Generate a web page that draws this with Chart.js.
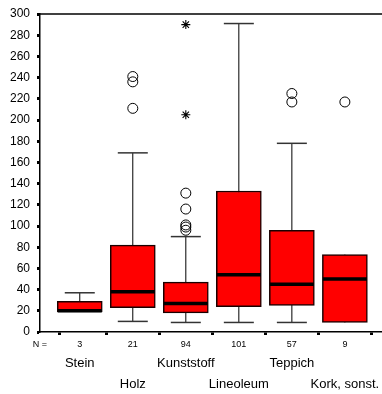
<!DOCTYPE html>
<html>
<head>
<meta charset="utf-8">
<script src="https://cdn.jsdelivr.net/npm/chart.js@4/dist/chart.umd.min.js"></script>
<style>
  html, body { margin: 0; padding: 0; background: #fff; }
  #wrap { width: 382px; height: 394px; }
</style>
</head>
<body>
<div id="wrap"><canvas id="c" width="382" height="394"></canvas></div>
<script>
// Floor material groups and their sample sizes
const categories = ['Stein', 'Holz', 'Kunststoff', 'Lineoleum', 'Teppich', 'Kork, sonst.'];
const counts = [3, 21, 94, 101, 57, 9];

// Box-plot summary per group
const whiskerLow  = [19, 10,  9,   9,   9,  9];
const q1          = [19, 23, 18,  24,  25,  9];
const median      = [20, 38, 27,  54,  45, 50];
const q3          = [29, 82, 47, 133,  96, 73];
const whiskerHigh = [37, 169, 90, 291, 178, 73];

// Outliers (circles) and extreme values (asterisks), per group
const outliers = [[], [211, 236, 241], [96, 99, 101, 116, 131], [], [217, 225], [217]];
const extremes = [[], [], [205, 290], [], [], []];

// Y axis ticks
const yMin = 0, yMax = 300, yStep = 20;

Chart.defaults.font.family = "'Liberation Sans', Arial, Helvetica, sans-serif";
Chart.defaults.color = '#000';

const pos = categories.map((_, i) => i + 1);

const whiskerData = [];
pos.forEach((x, i) => {
  whiskerData.push({ x, y: whiskerLow[i] }, { x, y: whiskerHigh[i] }, { x, y: null });
});
const boxData = pos.map((x, i) => ({ x, y: [q1[i], q3[i]] }));
const capData = [];
pos.forEach((x, i) => {
  if (whiskerLow[i] < q1[i]) capData.push({ x, y: whiskerLow[i] });
  if (whiskerHigh[i] > q3[i]) capData.push({ x, y: whiskerHigh[i] });
});
const medianData = pos.map((x, i) => ({ x, y: median[i] }));
const outlierData = [];
outliers.forEach((vals, i) => vals.forEach(v => outlierData.push({ x: pos[i], y: v })));
const extremeData = [];
extremes.forEach((vals, i) => vals.forEach(v => extremeData.push({ x: pos[i], y: v })));

// Ticks for the count row ("N =" sits on the left edge) and the name row
const nTicks = [{ value: 0.25 }].concat(pos.map(v => ({ value: v })));
const nameTicks = pos.map(v => ({ value: v }));

// Axes keep no extra room for overhanging labels
const noPad = s => { s.paddingLeft = 0; s.paddingRight = 0; s.paddingTop = 0; s.paddingBottom = 0; };

const frame = {
  id: 'frame',
  afterDraw(chart) {
    const { ctx, chartArea } = chart;
    ctx.save();
    ctx.strokeStyle = '#000';
    ctx.lineWidth = 1.5;
    ctx.beginPath();
    ctx.moveTo(chartArea.left, chartArea.top);
    ctx.lineTo(chartArea.right, chartArea.top);
    ctx.stroke();
    ctx.restore();
  }
};

new Chart(document.getElementById('c'), {
  type: 'bar',
  data: {
    datasets: [
      {
        type: 'line', data: whiskerData, order: 5,
        borderColor: '#000', borderWidth: 1, pointRadius: 0, spanGaps: false, fill: false
      },
      {
        type: 'bar', data: boxData, order: 4,
        backgroundColor: '#ff0000', borderColor: '#1a0000', borderWidth: 1.5,
        borderSkipped: false, barThickness: 45, grouped: false
      },
      {
        type: 'scatter', data: capData, order: 3,
        pointStyle: 'line', pointRadius: 15, borderColor: '#333', borderWidth: 1.5
      },
      {
        type: 'scatter', data: medianData, order: 2,
        pointStyle: 'line', pointRadius: 22, borderColor: '#000', borderWidth: 3.5
      },
      {
        type: 'scatter', data: outlierData, order: 1,
        pointStyle: 'circle', pointRadius: 5, borderColor: '#000', borderWidth: 1,
        backgroundColor: 'rgba(255,255,255,0)'
      },
      {
        type: 'scatter', data: extremeData, order: 0,
        pointStyle: 'star', pointRadius: 4.5, borderColor: '#000', borderWidth: 1.1
      }
    ]
  },
  options: {
    responsive: false,
    animation: false,
    events: [],
    layout: { autoPadding: false, padding: { top: 14, right: 0, bottom: 0, left: 0 } },
    plugins: { legend: { display: false }, tooltip: { enabled: false } },
    scales: {
      x: {
        type: 'linear', position: 'bottom', weight: 0,
        min: 0.25, max: 6.7, offset: false,
        afterBuildTicks: s => { s.ticks = nTicks.map(t => ({ value: t.value })); },
        afterFit: s => { s.height = 20; noPad(s); },
        border: { color: '#000', width: 1.5 },
        grid: {
          drawOnChartArea: false, tickLength: 3, tickWidth: 3,
          color: c => (c.tick && c.tick.value < 1 ? 'rgba(0,0,0,0)' : '#000')
        },
        ticks: {
          autoSkip: false, maxRotation: 0, padding: 4,
          font: { size: 9 }, color: '#000',
          callback: v => (v < 1 ? 'N =' : String(counts[Math.round(v) - 1]))
        }
      },
      x2: {
        type: 'linear', position: 'bottom', weight: 1,
        min: 0.25, max: 6.7, offset: false,
        afterBuildTicks: s => { s.ticks = nameTicks.map(t => ({ value: t.value })); },
        afterFit: s => { s.height = 42; noPad(s); },
        border: { display: false },
        grid: { display: false, drawTicks: false },
        ticks: {
          autoSkip: false, maxRotation: 0, padding: 1,
          font: { size: 13, lineHeight: 1.6 }, color: '#000',
          callback: v => {
            const i = Math.round(v) - 1;
            return i % 2 === 0 ? [categories[i]] : ['', categories[i]];
          }
        }
      },
      y: {
        type: 'linear', position: 'left',
        min: yMin, max: yMax,
        afterFit: s => { s.width = 40; noPad(s); },
        border: { color: '#000', width: 1.5 },
        grid: { drawOnChartArea: false, tickLength: 3, tickWidth: 3, color: '#000' },
        ticks: { stepSize: yStep, padding: 7, font: { size: 12 }, color: '#000' }
      }
    }
  },
  plugins: [frame]
});
</script>
</body>
</html>
